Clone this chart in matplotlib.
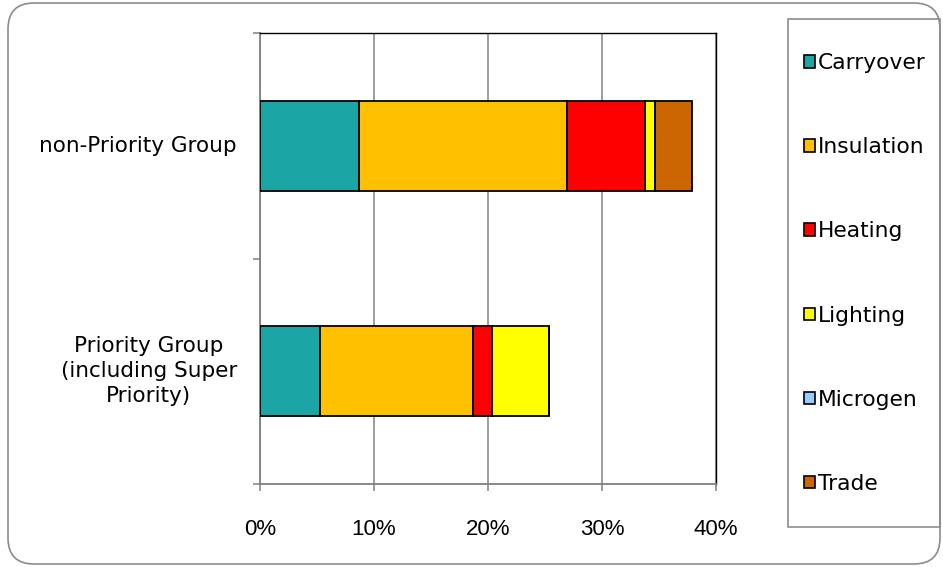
import matplotlib
matplotlib.use("Agg")
import matplotlib.pyplot as plt
from matplotlib.patches import FancyBboxPatch, Rectangle, Patch
from matplotlib.transforms import IdentityTransform
from matplotlib.ticker import FuncFormatter

# share of measures by group (% of total)
groups = ["Priority Group\n(including Super\nPriority)", "non-Priority Group"]
measures = ["Carryover", "Insulation", "Heating", "Lighting", "Microgen", "Trade"]
carryover = [5.3, 8.7]
insulation = [13.35, 18.2]
heating = [1.7, 6.9]
lighting = [5.0, 0.85]
microgen = [0.0, 0.0]
trade = [0.0, 3.25]
colours = ["#1CA5A5", "#FFC000", "#FF0000", "#FFFF00", "#99CCFF", "#CC6600"]

series = [carryover, insulation, heating, lighting, microgen, trade]

W, H = 943, 567
fig = plt.figure(figsize=(W/100, H/100), dpi=100)
plt.rcParams['font.family'] = ['DejaVu Sans']

# rounded frame round the whole chart
frame = FancyBboxPatch((8, 3), 932, 561, boxstyle="round,pad=0,rounding_size=26",
                       transform=IdentityTransform(), facecolor="none",
                       edgecolor="#8C8C8C", linewidth=1.2, zorder=-1)
fig.patches.append(frame)

ax = fig.add_axes([260/W, 1-484/H, 456/W, 451/H])
ax.set_facecolor("none")

ypos = list(range(len(groups)))
left = [0.0] * len(groups)
handles = []
for name, vals, col in zip(measures, series, colours):
    ax.barh(ypos, vals, left=left, height=0.4, color=col, edgecolor="black",
            linewidth=1.3, zorder=3)
    left = [a + b for a, b in zip(left, vals)]
    handles.append(Patch(facecolor=col, edgecolor="black", linewidth=1.2, label=name))

ax.set_xlim(0, 40)
ax.set_ylim(-0.5, 1.5)
ax.set_xticks([0, 10, 20, 30, 40])
ax.xaxis.set_major_formatter(FuncFormatter(lambda v, p: "%d%%" % v))
ax.grid(axis="x", color="#8C8C8C", linewidth=1.2, zorder=1)

ax.set_yticks(ypos)
ax.set_yticklabels(groups, multialignment="center", fontsize=15.5,
                   linespacing=1.3, va="center")
ax.set_yticks([-0.5, 0.5, 1.5], minor=True)
ax.tick_params(axis="y", which="major", length=0, pad=16.5)
ax.tick_params(axis="y", which="minor", length=5, color="#808080", width=1.1, direction="out")
ax.tick_params(axis="x", length=5, color="#808080", width=1.1, direction="out", pad=20)
for lab in ax.get_xticklabels():
    lab.set_family("Liberation Sans")
    lab.set_fontsize(16)

for s in ["left", "bottom"]:
    ax.spines[s].set_color("#808080")
    ax.spines[s].set_linewidth(1.3)
for s in ["top", "right"]:
    ax.spines[s].set_color("black")
    ax.spines[s].set_linewidth(1.0)

# legend box on the right
legbox = Rectangle((788, H-527), 152, 508, transform=IdentityTransform(),
                   facecolor="none", edgecolor="#8C8C8C", linewidth=1.2)
fig.patches.append(legbox)
leg = fig.legend(handles=handles, loc="center left",
                 bbox_to_anchor=(804/W, 1-273.5/H), fontsize=15.7, frameon=False,
                 handlelength=0.5, handleheight=0.5, handletextpad=0.15,
                 labelspacing=2.94, borderpad=0, borderaxespad=0)

fig.savefig("out.png", dpi=100)
